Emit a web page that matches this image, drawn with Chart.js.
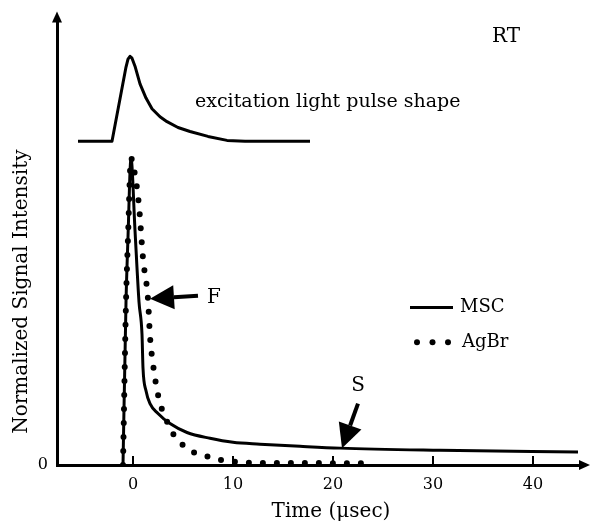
<!DOCTYPE html>
<html>
<head>
<meta charset="utf-8">
<script src="https://cdn.jsdelivr.net/npm/chart.js@4/dist/chart.umd.min.js"></script>
<style>
html,body{margin:0;padding:0;background:#fff;}
canvas{display:block;}
</style>
</head>
<body>
<canvas id="c" width="594" height="528"></canvas>
<script>
// ---- data (time in µs, normalized intensity) ----
const pulseTime = [-5.5, -2.1, -0.7, -0.5, -0.3, -0.1, 0.2, 0.7, 1.3, 1.9, 2.7, 3.4, 4.5, 5.7, 7.5, 9.4, 11.2, 17.7];
const pulseSignal = [1.055, 1.055, 1.297, 1.323, 1.332, 1.326, 1.30, 1.242, 1.196, 1.161, 1.135, 1.119, 1.10, 1.087, 1.071, 1.058, 1.055, 1.055];

const mscTime = [-1.0, -0.7, -0.5, -0.2, 0.2, 0.6, 0.9, 1.0, 1.3, 1.7, 2.5, 3.7, 5.4, 7.7, 10.0, 12.7, 16.7, 20.7, 30.7, 44.5];
const mscSignal = [0, 0.53, 0.742, 1.0, 0.765, 0.532, 0.426, 0.316, 0.242, 0.2, 0.168, 0.135, 0.106, 0.087, 0.074, 0.068, 0.061, 0.055, 0.048, 0.042];

const agbrTime = [-1.0, -0.7, -0.5, -0.2, 0.2, 0.6, 1.0, 1.5, 1.7, 2.0, 2.5, 2.9, 3.5, 4.1, 5.0, 6.0, 7.3, 8.8, 10.5, 12.2, 24.0];
const agbrSignal = [0, 0.53, 0.742, 1.0, 0.945, 0.845, 0.674, 0.54, 0.419, 0.329, 0.229, 0.181, 0.135, 0.097, 0.065, 0.042, 0.029, 0.016, 0.010, 0.007, 0.006];

const seriesNames = ['MSC', 'AgBr'];
const xTickValues = [0, 10, 20, 30, 40];
const yTickValues = [0];
const xTitle = 'Time (\u03bcsec)';
const yTitle = 'Normalized Signal Intensity';
const pulseLabel = 'excitation light pulse shape';
const tempLabel = 'RT';

const toPts = (xs, ys) => xs.map((v, i) => ({x: v, y: ys[i]}));
const FONT = 'DejaVu Serif';

const annot = {
  id: 'annot',
  afterDraw(chart) {
    const {ctx, chartArea: a, scales: {x, y}} = chart;
    const px = v => x.getPixelForValue(v), py = v => y.getPixelForValue(v);
    ctx.save();
    ctx.fillStyle = '#000';
    ctx.strokeStyle = '#000';
    // axis arrowheads
    ctx.beginPath();
    ctx.moveTo(a.left, a.top - 7); ctx.lineTo(a.left - 5, a.top + 4); ctx.lineTo(a.left + 5, a.top + 4); ctx.closePath(); ctx.fill();
    ctx.beginPath();
    ctx.moveTo(a.right + 10, a.bottom); ctx.lineTo(a.right - 1, a.bottom - 5); ctx.lineTo(a.right - 1, a.bottom + 5); ctx.closePath(); ctx.fill();
    // inward tick marks
    ctx.lineWidth = 2;
    xTickValues.forEach(v => {
      ctx.beginPath(); ctx.moveTo(px(v), a.bottom); ctx.lineTo(px(v), a.bottom - 9); ctx.stroke();
    });
    // arrows (data coordinates)
    const arrow = (x0, y0, x1, y1, hl, hw) => {
      const X0 = px(x0), Y0 = py(y0), X1 = px(x1), Y1 = py(y1);
      const ang = Math.atan2(Y1 - Y0, X1 - X0);
      const bx = X1 - hl * Math.cos(ang), by = Y1 - hl * Math.sin(ang);
      ctx.lineWidth = 4;
      ctx.beginPath(); ctx.moveTo(X0, Y0); ctx.lineTo(bx, by); ctx.stroke();
      ctx.beginPath();
      ctx.moveTo(X1, Y1);
      ctx.lineTo(bx + hw * Math.sin(ang), by - hw * Math.cos(ang));
      ctx.lineTo(bx - hw * Math.sin(ang), by + hw * Math.cos(ang));
      ctx.closePath(); ctx.fill();
    };
    arrow(6.5, 0.552, 1.7, 0.542, 24, 12);
    arrow(22.5, 0.2, 20.9, 0.055, 24, 12);
    // texts
    ctx.textBaseline = 'middle';
    ctx.textAlign = 'left';
    ctx.font = '20px "' + FONT + '"';
    ctx.fillText('F', px(7.4), py(0.545));
    ctx.textAlign = 'center';
    ctx.fillText('S', px(22.5), py(0.258));
    ctx.textAlign = 'left';
    ctx.fillText(tempLabel, px(35.9), py(1.397));
    ctx.font = '19px "' + FONT + '"';
    ctx.fillText(pulseLabel, px(6.2), py(1.184));
    // legend
    const lx = px(27.7);
    ctx.lineWidth = 3;
    ctx.beginPath(); ctx.moveTo(lx, py(0.513)); ctx.lineTo(lx + 43, py(0.513)); ctx.stroke();
    [0, 15.5, 31].forEach(d => { ctx.beginPath(); ctx.arc(lx + 7 + d, py(0.4), 3, 0, Math.PI * 2); ctx.fill(); });
    ctx.font = '18px "' + FONT + '"';
    ctx.fillText(seriesNames[0], lx + 50, py(0.513));
    ctx.fillText(seriesNames[1], lx + 52, py(0.4));
    // axis titles
    ctx.font = '20px "' + FONT + '"';
    ctx.textAlign = 'center';
    ctx.fillText(xTitle, px(19.8), a.bottom + 47);
    ctx.translate(22, py(0.565));
    ctx.rotate(-Math.PI / 2);
    ctx.fillText(yTitle, 0, 0);
    ctx.restore();
  }
};

new Chart(document.getElementById('c'), {
  type: 'line',
  data: {
    datasets: [
      {label: 'excitation', data: toPts(pulseTime, pulseSignal), borderColor: '#000', borderWidth: 3, borderJoinStyle: 'round', pointRadius: 0, tension: 0, fill: false},
      {label: seriesNames[0], data: toPts(mscTime, mscSignal), borderColor: '#000', borderWidth: 3, pointRadius: 0, cubicInterpolationMode: 'monotone', fill: false},
      {label: seriesNames[1], data: toPts(agbrTime, agbrSignal), borderColor: '#000', borderWidth: 6, borderDash: [0, 14], borderCapStyle: 'round', pointRadius: 0, cubicInterpolationMode: 'monotone', fill: false}
    ]
  },
  options: {
    responsive: false,
    animation: false,
    devicePixelRatio: 1,
    layout: {padding: {left: 0, right: 14, top: 14, bottom: 0}},
    plugins: {legend: {display: false}, tooltip: {enabled: false}},
    scales: {
      x: {
        type: 'linear', min: -7.6, max: 44.7,
        grid: {display: false, drawTicks: false},
        border: {display: true, color: '#000', width: 3},
        ticks: {color: '#000', font: {family: FONT, size: 16}, padding: 10, maxRotation: 0, autoSkip: false},
        afterBuildTicks: s => { s.ticks = xTickValues.map(v => ({value: v})); },
        afterFit: s => { s.height = 63; }
      },
      y: {
        type: 'linear', min: 0, max: 1.455,
        grid: {display: false, drawTicks: false},
        border: {display: true, color: '#000', width: 3},
        ticks: {color: '#000', font: {family: FONT, size: 16}, padding: 9},
        afterBuildTicks: s => { s.ticks = yTickValues.map(v => ({value: v})); },
        afterFit: s => { s.width = 57; }
      }
    }
  },
  plugins: [annot]
});
</script>
</body>
</html>
